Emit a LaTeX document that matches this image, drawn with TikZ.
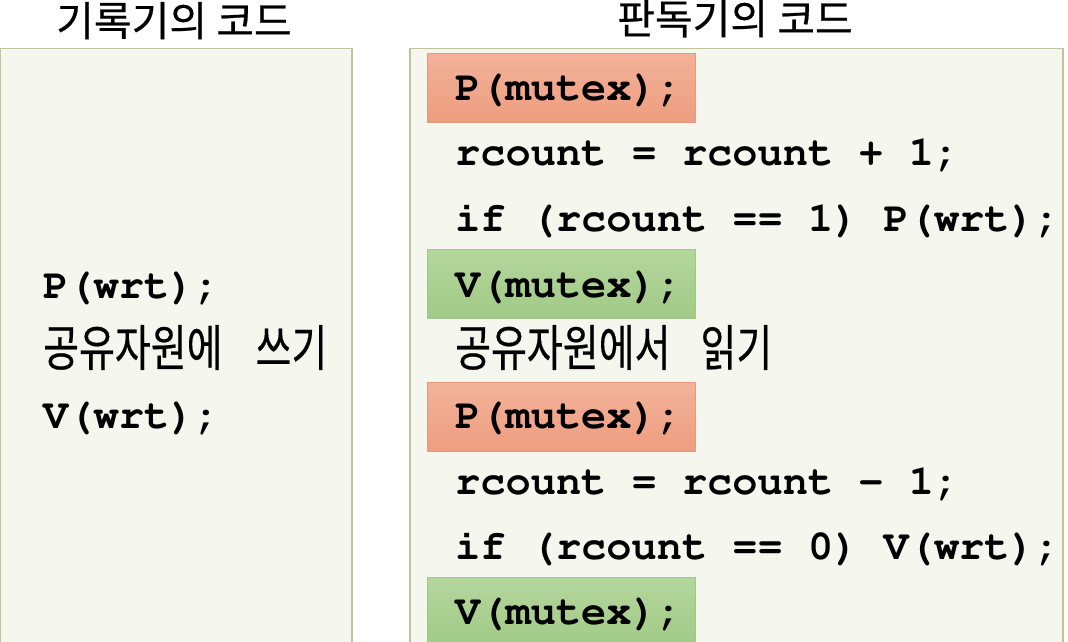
\documentclass[tikz,border=0pt]{standalone}
\usepackage[T1]{fontenc}
\usepackage{fontspec}
\usepackage{graphicx}
\newfontfamily\kr[FakeBold=0.5]{Noto Sans CJK KR}
\newcommand\monob{\fontencoding{T1}\fontfamily{pcr}\fontseries{b}\fontsize{42}{42}\selectfont}
\newcommand\tall[1]{\scalebox{1}[1.27]{#1}}
\definecolor{panelfill}{HTML}{F5F6EE}
\definecolor{paneldraw}{HTML}{BFC49C}
\definecolor{redtop}{HTML}{F2B29A}
\definecolor{redbot}{HTML}{EE9D7F}
\definecolor{reddraw}{HTML}{E49A7E}
\definecolor{greentop}{HTML}{B4D69D}
\definecolor{greenbot}{HTML}{A1CA86}
\definecolor{greendraw}{HTML}{A0C68A}
\tikzset{
  panel/.style={draw=paneldraw, fill=panelfill, line width=1.2pt},
  hlbox/.style={line width=1pt, minimum width=268pt, minimum height=69pt, inner sep=0pt},
  redbox/.style={hlbox, draw=reddraw, top color=redtop, bottom color=redbot},
  greenbox/.style={hlbox, draw=greendraw, top color=greentop, bottom color=greenbot},
  code/.style={inner sep=0pt, anchor=base west, font=\monob},
  krtext/.style={inner sep=0pt, anchor=base west, font=\kr\fontsize{39}{39}\selectfont},
  title/.style={inner sep=0pt, anchor=base, font=\kr\fontsize{41}{41}\selectfont}
}
\begin{document}
\begin{tikzpicture}[x=1pt, y=-1pt]
\useasboundingbox (0,0) rectangle (1068,641);
\fill[white] (0,0) rectangle (1068,641);
% titles
\node[title] (t1) at (174,36) {기록기의 코드};
\node[title] (t2) at (735,34) {판독기의 코드};
% panels
\draw[panel] (0.6,48.5) rectangle (352,680);
\draw[panel] (410,48.5) rectangle (1063,680);
% highlight boxes
\node[redbox] (b1) at (561,87.5) {};
\node[greenbox] (b2) at (561,284) {};
\node[redbox] (b3) at (561,417) {};
\node[greenbox] (b4) at (561,612) {};
% writer code
\node[code] (w1) at (43,298) {P(wrt);};
\node[krtext] (w2) at (43,366) {\tall{공유자원에\hspace{33pt}쓰기}};
\node[code] (w3) at (43,428) {V(wrt);};
% reader code
\node[code] (r1) at (455,100) {P(mutex);};
\node[code] (r2) at (455,165) {rcount = rcount + 1;};
\node[code] (r3) at (455,231) {if (rcount == 1) P(wrt);};
\node[code] (r4) at (455,297) {V(mutex);};
\node[krtext] (r5) at (455,366) {\tall{공유자원에서\hspace{30pt}읽기}};
\node[code] (r6) at (455,428) {P(mutex);};
\node[code] (r7) at (455,494) {rcount = rcount - 1;};
\node[code] (r8) at (455,559) {if (rcount == 0) V(wrt);};
\node[code] (r9) at (455,624) {V(mutex);};
\end{tikzpicture}
\end{document}
